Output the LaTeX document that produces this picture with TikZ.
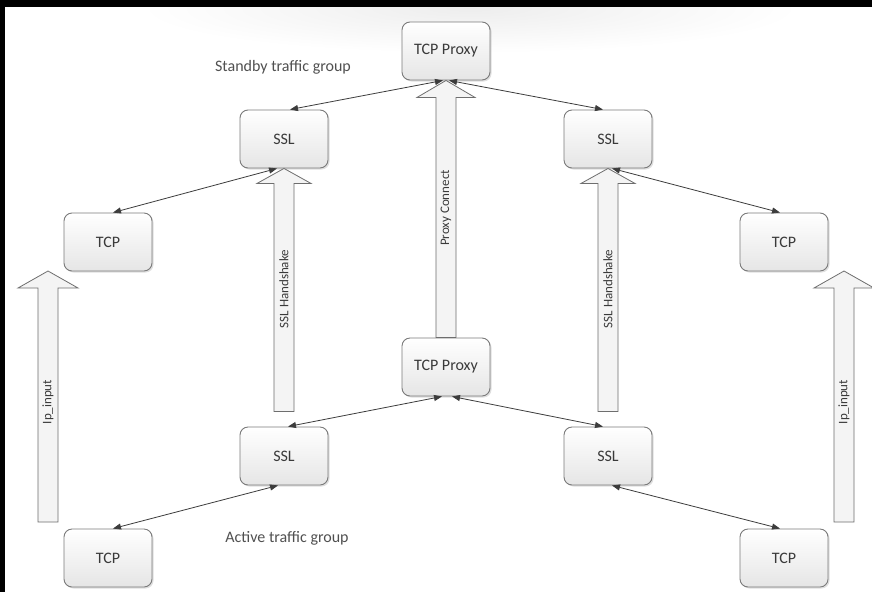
\documentclass[tikz,border=0pt]{standalone}
\usepackage{fontspec}
\setmainfont{Carlito}
\usetikzlibrary{arrows.meta,shadows,calc}
\definecolor{boxline}{HTML}{7A7A7A}
\definecolor{boxtext}{HTML}{3A3A3A}
\definecolor{grptext}{HTML}{505050}
\definecolor{conncol}{HTML}{3C3C3C}
\definecolor{arrfill}{HTML}{F4F4F4}
\definecolor{arrline}{HTML}{6E6E6E}
\tikzset{
  boxnode/.style={draw=boxline, line width=0.9pt, rounded corners=8pt,
    minimum width=88pt, minimum height=58pt, inner sep=0pt,
    top color=white, bottom color=black!10, text=boxtext,
    font=\fontsize{16}{18}\selectfont,
    drop shadow={opacity=0.25, shadow xshift=1.5pt, shadow yshift=-1.5pt}},
  conn/.style={draw=conncol, line width=0.8pt,
    {Triangle[length=8pt,width=6pt]}-{Triangle[length=8pt,width=6pt]}},
  barrow/.style={draw=arrline, fill=arrfill, line width=0.8pt, line join=miter},
  arrlabel/.style={rotate=90, text=boxtext, font=\fontsize{13}{15}\selectfont, inner sep=0pt},
  grplabel/.style={text=grptext, font=\fontsize{16}{18}\selectfont, inner sep=0pt}
}
\begin{document}
\begin{tikzpicture}[x=1pt,y=-1pt]
\useasboundingbox (0,0) rectangle (872,592);
\fill[white] (0,0) rectangle (872,592);
\shade[inner color=black!7, outer color=white, draw=none] (470,8) ellipse (330pt and 45pt);
\fill[black] (0,0) rectangle (872,7);
\fill[black] (0,0) rectangle (5,592);

% standby group
\node[boxnode] (tp1) at (446,51) {TCP Proxy};
\node[boxnode] (ss1) at (284,139) {SSL};
\node[boxnode] (ss2) at (608,139) {SSL};
\node[boxnode] (tc1) at (108,242) {TCP};
\node[boxnode] (tc2) at (784,242) {TCP};
% active group
\node[boxnode] (tp2) at (446,367) {TCP Proxy};
\node[boxnode] (sa1) at (284,456) {SSL};
\node[boxnode] (sa2) at (608,456) {SSL};
\node[boxnode] (ta1) at (108,558) {TCP};
\node[boxnode] (ta2) at (784,558) {TCP};

\node[grplabel] (lstandby) at (283,67) {Standby traffic group};
\node[grplabel] (lactive) at (287,538) {Active traffic group};

% block arrows
\coordinate (ipl) at (48,271);
\coordinate (ipr) at (844,271);
\draw[barrow] (ipl) -- ++(30,17) -- ++(-20,0) -- ++(0,234) -- ++(-20,0) -- ++(0,-234) -- ++(-20,0) -- cycle;
\draw[barrow] (ipr) -- ++(30,17) -- ++(-20,0) -- ++(0,234) -- ++(-20,0) -- ++(0,-234) -- ++(-20,0) -- cycle;
\draw[barrow] (ss1.south) -- ++(27,15) -- ++(-17,0) -- ++(0,228) -- ++(-20,0) -- ++(0,-228) -- ++(-17,0) -- cycle;
\draw[barrow] (ss2.south) -- ++(27,15) -- ++(-17,0) -- ++(0,228) -- ++(-20,0) -- ++(0,-228) -- ++(-17,0) -- cycle;
\draw[barrow] (tp1.south) -- ++(29,17) -- ++(-19,0) -- (tp2.north -| 456,0) -- (tp2.north -| 436,0) |- ($(tp1.south)+(-10,17)$) -- ++(-19,0) -- cycle;

\node[arrlabel] (lip1) at (48,402) {Ip\_input};
\node[arrlabel] (lip2) at (844,402) {Ip\_input};
\node[arrlabel] (lssl1) at (284,289) {SSL Handshake};
\node[arrlabel] (lssl2) at (608,289) {SSL Handshake};
\node[arrlabel] (lpc) at (446,208) {Proxy Connect};

% connectors standby
\draw[conn] ([xshift=6pt]ss1.north) -- ([xshift=-3pt]tp1.south);
\draw[conn] ([xshift=3pt]tp1.south) -- ([xshift=-5pt]ss2.north);
\draw[conn] ([xshift=5pt]tc1.north) -- ([xshift=-7pt]ss1.south);
\draw[conn] ([xshift=4pt]ss2.south) -- ([xshift=-4pt]tc2.north);
% connectors active
\draw[conn] ([xshift=4pt]sa1.north) -- ([xshift=-4pt]tp2.south);
\draw[conn] ([xshift=6pt]tp2.south) -- ([xshift=-5pt]sa2.north);
\draw[conn] ([xshift=5pt]ta1.north) -- ([xshift=-6pt]sa1.south);
\draw[conn] ([xshift=4pt]sa2.south) -- ([xshift=-4pt]ta2.north);
\end{tikzpicture}
\end{document}
